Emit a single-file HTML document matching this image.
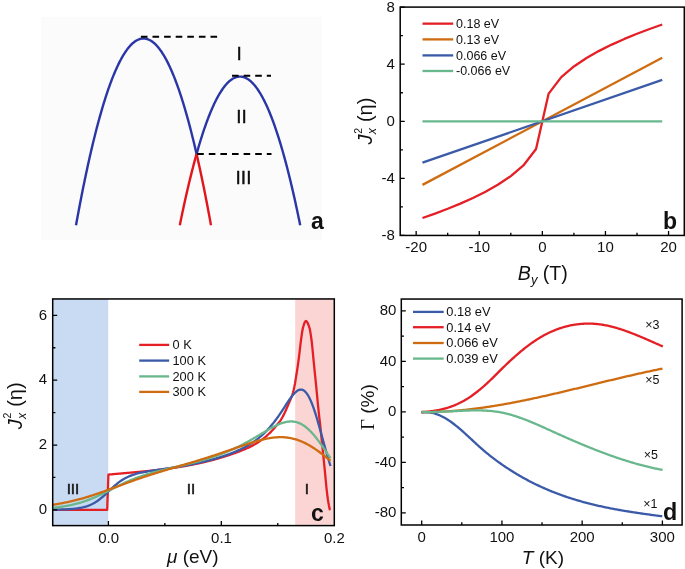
<!DOCTYPE html>
<html><head><meta charset="utf-8"><style>
html,body{margin:0;padding:0;background:#fff;width:685px;height:569px;overflow:hidden;}
svg{display:block;will-change:transform;}
text{font-family:"Liberation Sans",sans-serif;fill:#111;}
</style></head><body>
<svg width="685" height="569" viewBox="0 0 685 569">
<rect x="41" y="17" width="281" height="223" fill="#fbfbfb"/>
<path d="M76 225.31 L76.5 222.55 L77 219.81 L77.5 217.1 L78 214.4 L78.5 211.72 L79 209.07 L79.5 206.44 L80 203.82 L80.5 201.23 L81 198.66 L81.5 196.1 L82 193.57 L82.5 191.06 L83 188.57 L83.5 186.1 L84 183.65 L84.5 181.22 L85 178.81 L85.5 176.42 L86 174.06 L86.5 171.71 L87 169.38 L87.5 167.08 L88 164.79 L88.5 162.53 L89 160.28 L89.5 158.06 L90 155.85 L90.5 153.67 L91 151.51 L91.5 149.36 L92 147.24 L92.5 145.14 L93 143.06 L93.5 141 L94 138.96 L94.5 136.94 L95 134.94 L95.5 132.96 L96 131.01 L96.5 129.07 L97 127.15 L97.5 125.26 L98 123.38 L98.5 121.53 L99 119.69 L99.5 117.88 L100 116.08 L100.5 114.31 L101 112.56 L101.5 110.82 L102 109.11 L102.5 107.42 L103 105.75 L103.5 104.1 L104 102.47 L104.5 100.86 L105 99.27 L105.5 97.7 L106 96.16 L106.5 94.63 L107 93.12 L107.5 91.64 L108 90.17 L108.5 88.72 L109 87.3 L109.5 85.9 L110 84.51 L110.5 83.15 L111 81.81 L111.5 80.48 L112 79.18 L112.5 77.9 L113 76.64 L113.5 75.4 L114 74.18 L114.5 72.98 L115 71.8 L115.5 70.64 L116 69.51 L116.5 68.39 L117 67.29 L117.5 66.22 L118 65.16 L118.5 64.12 L119 63.11 L119.5 62.12 L120 61.14 L120.5 60.19 L121 59.26 L121.5 58.34 L122 57.45 L122.5 56.58 L123 55.73 L123.5 54.9 L124 54.09 L124.5 53.3 L125 52.53 L125.5 51.78 L126 51.06 L126.5 50.35 L127 49.66 L127.5 49 L128 48.35 L128.5 47.73 L129 47.12 L129.5 46.54 L130 45.97 L130.5 45.43 L131 44.91 L131.5 44.4 L132 43.92 L132.5 43.46 L133 43.02 L133.5 42.6 L134 42.2 L134.5 41.82 L135 41.46 L135.5 41.12 L136 40.81 L136.5 40.51 L137 40.23 L137.5 39.98 L138 39.74 L138.5 39.52 L139 39.33 L139.5 39.16 L140 39 L140.5 38.87 L141 38.76 L141.5 38.66 L142 38.59 L142.5 38.54 L143 38.51 L143.5 38.5 L144 38.51 L144.5 38.54 L145 38.59 L145.5 38.66 L146 38.76 L146.5 38.87 L147 39 L147.5 39.16 L148 39.33 L148.5 39.52 L149 39.74 L149.5 39.98 L150 40.23 L150.5 40.51 L151 40.81 L151.5 41.12 L152 41.46 L152.5 41.82 L153 42.2 L153.5 42.6 L154 43.02 L154.5 43.46 L155 43.92 L155.5 44.4 L156 44.91 L156.5 45.43 L157 45.97 L157.5 46.54 L158 47.12 L158.5 47.73 L159 48.35 L159.5 49 L160 49.66 L160.5 50.35 L161 51.06 L161.5 51.78 L162 52.53 L162.5 53.3 L163 54.09 L163.5 54.9 L164 55.73 L164.5 56.58 L165 57.45 L165.5 58.34 L166 59.26 L166.5 60.19 L167 61.14 L167.5 62.12 L168 63.11 L168.5 64.12 L169 65.16 L169.5 66.22 L170 67.29 L170.5 68.39 L171 69.51 L171.5 70.64 L172 71.8 L172.5 72.98 L173 74.18 L173.5 75.4 L174 76.64 L174.5 77.9 L175 79.18 L175.5 80.48 L176 81.81 L176.5 83.15 L177 84.51 L177.5 85.9 L178 87.3 L178.5 88.72 L179 90.17 L179.5 91.64 L180 93.12 L180.5 94.63 L181 96.16 L181.5 97.7 L182 99.27 L182.5 100.86 L183 102.47 L183.5 104.1 L184 105.75 L184.5 107.42 L185 109.11 L185.5 110.82 L186 112.56 L186.5 114.31 L187 116.08 L187.5 117.88 L188 119.69 L188.5 121.53 L189 123.38 L189.5 125.26 L190 127.15 L190.5 129.07 L191 131.01 L191.5 132.96 L192 134.94 L192.5 136.94 L193 138.96 L193.5 141 L194 143.06 L194.5 145.14 L195 147.24 L195.5 149.36 L196 151.51 L196.5 153.67 L196.6 154.1" fill="none" stroke="#2b36a6" stroke-width="2.4"/>
<path d="M196.6 153.83 L197.1 152.06 L197.6 150.31 L198.1 148.58 L198.6 146.87 L199.1 145.19 L199.6 143.52 L200.1 141.87 L200.6 140.25 L201.1 138.64 L201.6 137.06 L202.1 135.49 L202.6 133.95 L203.1 132.43 L203.6 130.92 L204.1 129.44 L204.6 127.98 L205.1 126.54 L205.6 125.12 L206.1 123.72 L206.6 122.34 L207.1 120.98 L207.6 119.64 L208.1 118.32 L208.6 117.02 L209.1 115.75 L209.6 114.49 L210.1 113.25 L210.6 112.04 L211.1 110.84 L211.6 109.67 L212.1 108.51 L212.6 107.38 L213.1 106.27 L213.6 105.18 L214.1 104.1 L214.6 103.05 L215.1 102.02 L215.6 101.01 L216.1 100.02 L216.6 99.05 L217.1 98.1 L217.6 97.17 L218.1 96.26 L218.6 95.38 L219.1 94.51 L219.6 93.66 L220.1 92.84 L220.6 92.03 L221.1 91.25 L221.6 90.48 L222.1 89.74 L222.6 89.01 L223.1 88.31 L223.6 87.63 L224.1 86.97 L224.6 86.32 L225.1 85.7 L225.6 85.1 L226.1 84.52 L226.6 83.96 L227.1 83.42 L227.6 82.9 L228.1 82.41 L228.6 81.93 L229.1 81.47 L229.6 81.03 L230.1 80.62 L230.6 80.22 L231.1 79.85 L231.6 79.49 L232.1 79.16 L232.6 78.85 L233.1 78.55 L233.6 78.28 L234.1 78.03 L234.6 77.8 L235.1 77.58 L235.6 77.39 L236.1 77.22 L236.6 77.07 L237.1 76.94 L237.6 76.84 L238.1 76.75 L238.6 76.68 L239.1 76.63 L239.6 76.61 L240.1 76.6 L240.6 76.61 L241.1 76.65 L241.6 76.7 L242.1 76.78 L242.6 76.88 L243.1 76.99 L243.6 77.13 L244.1 77.29 L244.6 77.47 L245.1 77.67 L245.6 77.89 L246.1 78.13 L246.6 78.39 L247.1 78.67 L247.6 78.97 L248.1 79.29 L248.6 79.63 L249.1 80 L249.6 80.38 L250.1 80.78 L250.6 81.21 L251.1 81.65 L251.6 82.12 L252.1 82.6 L252.6 83.11 L253.1 83.64 L253.6 84.18 L254.1 84.75 L254.6 85.34 L255.1 85.95 L255.6 86.58 L256.1 87.23 L256.6 87.9 L257.1 88.59 L257.6 89.3 L258.1 90.03 L258.6 90.78 L259.1 91.56 L259.6 92.35 L260.1 93.16 L260.6 94 L261.1 94.85 L261.6 95.73 L262.1 96.62 L262.6 97.54 L263.1 98.48 L263.6 99.44 L264.1 100.41 L264.6 101.41 L265.1 102.43 L265.6 103.47 L266.1 104.53 L266.6 105.61 L267.1 106.71 L267.6 107.83 L268.1 108.97 L268.6 110.14 L269.1 111.32 L269.6 112.52 L270.1 113.75 L270.6 114.99 L271.1 116.26 L271.6 117.54 L272.1 118.85 L272.6 120.17 L273.1 121.52 L273.6 122.89 L274.1 124.28 L274.6 125.68 L275.1 127.11 L275.6 128.56 L276.1 130.03 L276.6 131.52 L277.1 133.03 L277.6 134.56 L278.1 136.12 L278.6 137.69 L279.1 139.28 L279.6 140.89 L280.1 142.53 L280.6 144.18 L281.1 145.86 L281.6 147.55 L282.1 149.27 L282.6 151.01 L283.1 152.76 L283.6 154.54 L284.1 156.34 L284.6 158.16 L285.1 159.99 L285.6 161.85 L286.1 163.73 L286.6 165.63 L287.1 167.55 L287.6 169.5 L288.1 171.46 L288.6 173.44 L289.1 175.44 L289.6 177.47 L290.1 179.51 L290.6 181.57 L291.1 183.66 L291.6 185.76 L292.1 187.89 L292.6 190.04 L293.1 192.2 L293.6 194.39 L294.1 196.6 L294.6 198.83 L295.1 201.08 L295.6 203.35 L296.1 205.64 L296.6 207.95 L297.1 210.28 L297.6 212.63 L298.1 215 L298.6 217.39 L299.1 219.81 L299.6 222.24 L300.1 224.69 L300.2 225.19" fill="none" stroke="#2b36a6" stroke-width="2.4"/>
<path d="M196.6 154.1 L197.1 156.29 L197.6 158.5 L198.1 160.73 L198.6 162.98 L199.1 165.25 L199.6 167.54 L200.1 169.85 L200.6 172.18 L201.1 174.53 L201.6 176.9 L202.1 179.29 L202.6 181.71 L203.1 184.14 L203.6 186.59 L204.1 189.07 L204.6 191.56 L205.1 194.08 L205.6 196.61 L206.1 199.17 L206.6 201.75 L207.1 204.34 L207.6 206.96 L208.1 209.6 L208.6 212.26 L209.1 214.94 L209.6 217.64 L210.1 220.36 L210.6 223.1 L211 225.31" fill="none" stroke="#e2141c" stroke-width="2.4"/>
<path d="M179.8 225.19 L180.3 222.73 L180.8 220.29 L181.3 217.87 L181.8 215.48 L182.3 213.1 L182.8 210.75 L183.3 208.41 L183.8 206.1 L184.3 203.8 L184.8 201.53 L185.3 199.28 L185.8 197.04 L186.3 194.83 L186.8 192.64 L187.3 190.47 L187.8 188.32 L188.3 186.19 L188.8 184.08 L189.3 181.99 L189.8 179.92 L190.3 177.87 L190.8 175.85 L191.3 173.84 L191.8 171.85 L192.3 169.89 L192.8 167.94 L193.3 166.02 L193.8 164.11 L194.3 162.23 L194.8 160.36 L195.3 158.52 L195.8 156.7 L196.3 154.9 L196.6 153.83" fill="none" stroke="#e2141c" stroke-width="2.4"/>
<g stroke="#000" stroke-width="2" stroke-dasharray="6.6 5"><line x1="140.9" y1="36.8" x2="217.1" y2="36.8"/><line x1="232" y1="75.8" x2="271" y2="75.8"/><line x1="197.2" y1="153.9" x2="271.5" y2="153.9"/></g>
<g font-size="19" text-anchor="middle" stroke="#111" stroke-width="0.4"><text x="239.05" y="59.7">I</text></g>
<g font-size="19" text-anchor="middle" stroke="#111" stroke-width="0.4"><text x="239.0" y="122.9">I</text><text x="244.1" y="122.9">I</text></g>
<g font-size="19" text-anchor="middle" stroke="#111" stroke-width="0.4"><text x="238.05" y="183.7">I</text><text x="243.35" y="183.7">I</text><text x="248.85" y="183.7">I</text></g>
<text x="311" y="228.6" font-size="23" font-weight="bold">a</text>
<path d="M422.46 218.04 L435.08 213.57 L447.7 208.79 L460.32 203.63 L472.94 197.98 L485.56 191.71 L498.18 184.58 L510.8 176.14 L523.42 165.44 L536.04 148.96 L542.35 121.28 L548.66 93.6 L561.28 77.12 L573.9 66.42 L586.52 57.98 L599.14 50.85 L611.76 44.58 L624.38 38.93 L637 33.77 L649.62 28.99 L662.24 24.52" fill="none" stroke="#e41f26" stroke-width="2.3" stroke-linejoin="round"/>
<path d="M422.46 184.86L662.24 57.7" stroke="#cf6c12" stroke-width="2.3"/>
<path d="M422.46 162.63L662.24 79.93" stroke="#3b5ba8" stroke-width="2.3"/>
<path d="M422.46 121.28L662.24 121.28" stroke="#69b78c" stroke-width="2.3"/>
<rect x="400.2" y="7.1" width="284.1" height="228.35" fill="none" stroke="#000" stroke-width="1.5"/>
<path d="M416.15 235.45v-4.5M479.25 235.45v-4.5M542.35 235.45v-4.5M605.45 235.45v-4.5M668.55 235.45v-4.5M447.7 235.45v-2.7M510.8 235.45v-2.7M573.9 235.45v-2.7M637 235.45v-2.7M400.2 235.44h4.5M400.2 178.36h4.5M400.2 121.28h4.5M400.2 64.2h4.5M400.2 7.12h4.5M400.2 206.9h2.7M400.2 149.82h2.7M400.2 92.74h2.7M400.2 35.66h2.7" stroke="#000" stroke-width="1.3" fill="none"/>
<g font-size="15" text-anchor="middle">
<text x="416.15" y="252">-20</text>
<text x="479.25" y="252">-10</text>
<text x="542.35" y="252">0</text>
<text x="605.45" y="252">10</text>
<text x="668.55" y="252">20</text>
</g><g font-size="15" text-anchor="end">
<text x="394.8" y="239.84">-8</text>
<text x="394.8" y="182.76">-4</text>
<text x="394.8" y="125.68">0</text>
<text x="394.8" y="68.6">4</text>
<text x="394.8" y="11.52">8</text>
</g>
<line x1="422.5" y1="23.65" x2="453.2" y2="23.65" stroke="#e41f26" stroke-width="2.3"/>
<text x="456" y="27.95" font-size="12.5">0.18 eV</text>
<line x1="422.5" y1="39.4" x2="453.2" y2="39.4" stroke="#cf6c12" stroke-width="2.3"/>
<text x="456" y="43.7" font-size="12.5">0.13 eV</text>
<line x1="422.5" y1="55.4" x2="453.2" y2="55.4" stroke="#3b5ba8" stroke-width="2.3"/>
<text x="456" y="59.7" font-size="12.5">0.066 eV</text>
<line x1="422.5" y1="71.0" x2="453.2" y2="71.0" stroke="#69b78c" stroke-width="2.3"/>
<text x="456" y="75.3" font-size="12.5">-0.066 eV</text>
<text x="663" y="229.4" font-size="23" font-weight="bold">b</text>
<text x="517.8" y="279.9" font-size="19.6"><tspan font-style="italic">B</tspan><tspan font-size="13" font-style="italic" dy="4">y</tspan><tspan dy="-4"> (T)</tspan></text>
<g transform="translate(372.2,144.5) rotate(-90)"><text x="0" y="0" font-size="20" font-style="italic">J</text><text x="10.2" y="4" font-size="12.5" font-style="italic">x</text><text x="10.8" y="-10.6" font-size="10.5">2</text><text x="22.4" y="0" font-size="20">(η)</text></g>
<rect x="52.7" y="298.95" width="55.5" height="226.65" fill="#c9dbf3"/>
<rect x="295.2" y="298.95" width="39.1" height="226.65" fill="#fad5d4"/>
<path d="M52.7 509.8 L107.2 509.8 L108.4 474.59 L108.9 474.54 L109.4 474.5 L109.9 474.45 L110.4 474.41 L110.9 474.36 L111.4 474.32 L111.9 474.27 L112.4 474.23 L112.9 474.18 L113.4 474.14 L113.9 474.1 L114.4 474.05 L114.9 474.01 L115.4 473.96 L115.9 473.92 L116.4 473.88 L116.9 473.83 L117.4 473.79 L117.9 473.74 L118.4 473.7 L118.9 473.66 L119.4 473.61 L119.9 473.57 L120.4 473.52 L120.9 473.48 L121.4 473.44 L121.9 473.39 L122.4 473.35 L122.9 473.31 L123.4 473.26 L123.9 473.22 L124.4 473.17 L124.9 473.13 L125.4 473.09 L125.9 473.04 L126.4 473 L126.9 472.95 L127.4 472.91 L127.9 472.87 L128.4 472.82 L128.9 472.78 L129.4 472.73 L129.9 472.69 L130.4 472.64 L130.9 472.6 L131.4 472.55 L131.9 472.51 L132.4 472.46 L132.9 472.42 L133.4 472.37 L133.9 472.33 L134.4 472.28 L134.9 472.24 L135.4 472.19 L135.9 472.14 L136.4 472.1 L136.9 472.05 L137.4 472 L137.9 471.96 L138.4 471.91 L138.9 471.86 L139.4 471.82 L139.9 471.77 L140.4 471.72 L140.9 471.67 L141.4 471.63 L141.9 471.58 L142.4 471.53 L142.9 471.48 L143.4 471.43 L143.9 471.38 L144.4 471.33 L144.9 471.28 L145.4 471.23 L145.9 471.18 L146.4 471.13 L146.9 471.08 L147.4 471.03 L147.9 470.98 L148.4 470.93 L148.9 470.87 L149.4 470.82 L149.9 470.77 L150.4 470.72 L150.9 470.66 L151.4 470.61 L151.9 470.56 L152.4 470.5 L152.9 470.45 L153.4 470.39 L153.9 470.34 L154.4 470.28 L154.9 470.23 L155.4 470.17 L155.9 470.11 L156.4 470.06 L156.9 470 L157.4 469.94 L157.9 469.88 L158.4 469.83 L158.9 469.77 L159.4 469.71 L159.9 469.65 L160.4 469.59 L160.9 469.53 L161.4 469.47 L161.9 469.4 L162.4 469.34 L162.9 469.28 L163.4 469.22 L163.9 469.16 L164.4 469.09 L164.9 469.03 L165.4 468.96 L165.9 468.9 L166.4 468.83 L166.9 468.77 L167.4 468.7 L167.9 468.63 L168.4 468.57 L168.9 468.5 L169.4 468.43 L169.9 468.36 L170.4 468.29 L170.9 468.22 L171.4 468.15 L171.9 468.08 L172.4 468.01 L172.9 467.94 L173.4 467.86 L173.9 467.79 L174.4 467.72 L174.9 467.64 L175.4 467.57 L175.9 467.49 L176.4 467.42 L176.9 467.34 L177.4 467.26 L177.9 467.18 L178.4 467.11 L178.9 467.03 L179.4 466.95 L179.9 466.87 L180.4 466.79 L180.9 466.7 L181.4 466.62 L181.9 466.54 L182.4 466.46 L182.9 466.37 L183.4 466.29 L183.9 466.2 L184.4 466.11 L184.9 466.03 L185.4 465.94 L185.9 465.85 L186.4 465.76 L186.9 465.67 L187.4 465.58 L187.9 465.49 L188.4 465.4 L188.9 465.31 L189.4 465.22 L189.9 465.12 L190.4 465.03 L190.9 464.93 L191.4 464.84 L191.9 464.74 L192.4 464.64 L192.9 464.54 L193.4 464.45 L193.9 464.35 L194.4 464.24 L194.9 464.14 L195.4 464.04 L195.9 463.94 L196.4 463.83 L196.9 463.73 L197.4 463.63 L197.9 463.52 L198.4 463.41 L198.9 463.3 L199.4 463.2 L199.9 463.09 L200.4 462.98 L200.9 462.87 L201.4 462.75 L201.9 462.64 L202.4 462.53 L202.9 462.41 L203.4 462.3 L203.9 462.18 L204.4 462.06 L204.9 461.95 L205.4 461.83 L205.9 461.71 L206.4 461.59 L206.9 461.47 L207.4 461.34 L207.9 461.22 L208.4 461.1 L208.9 460.97 L209.4 460.84 L209.9 460.72 L210.4 460.59 L210.9 460.46 L211.4 460.33 L211.9 460.2 L212.4 460.07 L212.9 459.93 L213.4 459.8 L213.9 459.67 L214.4 459.53 L214.9 459.39 L215.4 459.26 L215.9 459.12 L216.4 458.98 L216.9 458.84 L217.4 458.7 L217.9 458.55 L218.4 458.41 L218.9 458.26 L219.4 458.12 L219.9 457.97 L220.4 457.82 L220.9 457.67 L221.4 457.52 L221.9 457.37 L222.4 457.22 L222.9 457.07 L223.4 456.91 L223.9 456.76 L224.4 456.6 L224.9 456.44 L225.4 456.29 L225.9 456.13 L226.4 455.96 L226.9 455.8 L227.4 455.64 L227.9 455.48 L228.4 455.31 L228.9 455.14 L229.4 454.98 L229.9 454.81 L230.4 454.64 L230.9 454.47 L231.4 454.29 L231.9 454.12 L232.4 453.95 L232.9 453.77 L233.4 453.59 L233.9 453.42 L234.4 453.24 L234.9 453.06 L235.4 452.87 L235.9 452.69 L236.4 452.51 L236.9 452.32 L237.4 452.13 L237.9 451.95 L238.4 451.76 L238.9 451.57 L239.4 451.38 L239.9 451.18 L240.4 450.99 L240.9 450.79 L241.4 450.6 L241.9 450.4 L242.4 450.2 L242.9 450 L243.4 449.79 L243.9 449.58 L244.4 449.38 L244.9 449.17 L245.4 448.95 L245.9 448.74 L246.4 448.52 L246.9 448.3 L247.4 448.07 L247.9 447.84 L248.4 447.61 L248.9 447.38 L249.4 447.14 L249.9 446.9 L250.4 446.65 L250.9 446.4 L251.4 446.15 L251.9 445.89 L252.4 445.63 L252.9 445.37 L253.4 445.1 L253.9 444.82 L254.4 444.54 L254.9 444.26 L255.4 443.97 L255.9 443.67 L256.4 443.37 L256.9 443.07 L257.4 442.76 L257.9 442.44 L258.4 442.12 L258.9 441.79 L259.4 441.46 L259.9 441.12 L260.4 440.77 L260.9 440.42 L261.4 440.06 L261.9 439.69 L262.4 439.32 L262.9 438.94 L263.4 438.55 L263.9 438.16 L264.4 437.75 L264.9 437.35 L265.4 436.93 L265.9 436.51 L266.4 436.07 L266.9 435.63 L267.4 435.19 L267.9 434.73 L268.4 434.27 L268.9 433.79 L269.4 433.31 L269.9 432.82 L270.4 432.32 L270.9 431.82 L271.4 431.3 L271.9 430.78 L272.4 430.24 L272.9 429.7 L273.4 429.14 L273.9 428.58 L274.4 428.01 L274.9 427.42 L275.4 426.83 L275.9 426.23 L276.4 425.61 L276.9 424.99 L277.4 424.35 L277.9 423.74 L278.4 423.15 L278.9 422.54 L279.4 421.91 L279.9 421.25 L280.4 420.55 L280.9 419.81 L281.4 419.01 L281.9 418.17 L282.4 417.29 L282.9 416.36 L283.4 415.4 L283.9 414.41 L284.4 413.39 L284.9 412.36 L285.4 411.29 L285.9 410.19 L286.4 409.06 L286.9 407.91 L287.4 406.73 L287.9 405.54 L288.4 404.34 L288.9 403.14 L289.4 401.97 L289.9 400.83 L290.4 399.7 L290.9 398.55 L291.4 397.33 L291.9 395.98 L292.4 394.5 L292.9 392.83 L293.4 390.95 L293.9 388.86 L294.4 386.58 L294.9 384.01 L295.4 381.05 L295.9 377.9 L296.4 374.74 L296.9 371.57 L297.4 368.31 L297.9 364.95 L298.4 361.45 L298.9 357.72 L299.4 353.61 L299.9 349.29 L300.4 344.96 L300.9 340.82 L301.4 337.08 L301.9 333.68 L302.4 330.48 L302.9 327.97 L303.4 326.24 L303.9 324.61 L304.4 323.18 L304.9 322.04 L305.4 321.28 L305.9 321 L306.4 321.18 L306.9 321.7 L307.4 322.5 L307.9 323.54 L308.4 324.77 L308.9 326.14 L309.4 327.6 L309.9 329.57 L310.4 332.34 L310.9 335.66 L311.4 339.27 L311.9 343.25 L312.4 348 L312.9 353.21 L313.4 358.55 L313.9 363.7 L314.4 368.62 L314.9 373.53 L315.4 378.45 L315.9 383.4 L316.4 388.41 L316.9 393.59 L317.4 398.86 L317.9 404.08 L318.4 409.09 L318.9 413.73 L319.4 418.02 L319.9 422.3 L320.4 426.88 L320.9 431.78 L321.4 436.81 L321.9 441.79 L322.4 446.72 L322.9 451.66 L323.4 456.6 L323.9 461.5 L324.4 466.4 L324.9 471.38 L325.4 476.66 L325.9 482.16 L326.4 487.28 L326.9 491.74 L327.4 495.87 L327.9 499.51 L328.4 502.61 L328.9 505.41 L329.4 507.89 L329.9 509.95 L330 510.3" fill="none" stroke="#e41f26" stroke-width="2.3" stroke-linejoin="round"/>
<path d="M52.7 509.68 L53.7 509.67 L54.7 509.66 L55.7 509.64 L56.7 509.62 L57.7 509.6 L58.7 509.58 L59.7 509.56 L60.7 509.53 L61.7 509.51 L62.7 509.47 L63.7 509.44 L64.7 509.4 L65.7 509.36 L66.7 509.31 L67.7 509.26 L68.7 509.2 L69.7 509.14 L70.7 509.07 L71.7 508.99 L72.7 508.9 L73.7 508.81 L74.7 508.7 L75.7 508.59 L76.7 508.46 L77.7 508.32 L78.7 508.17 L79.7 508 L80.7 507.82 L81.7 507.62 L82.7 507.4 L83.7 507.16 L84.7 506.89 L85.7 506.6 L86.7 506.29 L87.7 505.95 L88.7 505.58 L89.7 505.18 L90.7 504.75 L91.7 504.29 L92.7 503.79 L93.7 503.25 L94.7 502.68 L95.7 502.07 L96.7 501.43 L97.7 500.74 L98.7 500.02 L99.7 499.27 L100.7 498.48 L101.7 497.65 L102.7 496.8 L103.7 495.93 L104.7 495.03 L105.7 494.11 L106.7 493.17 L107.7 492.23 L108.7 491.28 L109.7 490.33 L110.7 489.38 L111.7 488.44 L112.7 487.52 L113.7 486.61 L114.7 485.72 L115.7 484.86 L116.7 484.02 L117.7 483.21 L118.7 482.44 L119.7 481.7 L120.7 480.99 L121.7 480.31 L122.7 479.67 L123.7 479.06 L124.7 478.49 L125.7 477.95 L126.7 477.43 L127.7 476.95 L128.7 476.5 L129.7 476.08 L130.7 475.68 L131.7 475.3 L132.7 474.95 L133.7 474.61 L134.7 474.3 L135.7 474 L136.7 473.73 L137.7 473.46 L138.7 473.21 L139.7 472.98 L140.7 472.75 L141.7 472.53 L142.7 472.33 L143.7 472.13 L144.7 471.94 L145.7 471.76 L146.7 471.58 L147.7 471.41 L148.7 471.24 L149.7 471.08 L150.7 470.92 L151.7 470.77 L152.7 470.61 L153.7 470.46 L154.7 470.32 L155.7 470.17 L156.7 470.02 L157.7 469.88 L158.7 469.73 L159.7 469.59 L160.7 469.45 L161.7 469.3 L162.7 469.16 L163.7 469.01 L164.7 468.87 L165.7 468.72 L166.7 468.58 L167.7 468.43 L168.7 468.28 L169.7 468.13 L170.7 467.98 L171.7 467.82 L172.7 467.67 L173.7 467.51 L174.7 467.35 L175.7 467.19 L176.7 467.03 L177.7 466.87 L178.7 466.7 L179.7 466.53 L180.7 466.36 L181.7 466.19 L182.7 466.01 L183.7 465.83 L184.7 465.65 L185.7 465.47 L186.7 465.28 L187.7 465.1 L188.7 464.9 L189.7 464.71 L190.7 464.51 L191.7 464.31 L192.7 464.11 L193.7 463.9 L194.7 463.7 L195.7 463.48 L196.7 463.27 L197.7 463.05 L198.7 462.83 L199.7 462.6 L200.7 462.37 L201.7 462.14 L202.7 461.9 L203.7 461.66 L204.7 461.42 L205.7 461.17 L206.7 460.92 L207.7 460.67 L208.7 460.41 L209.7 460.15 L210.7 459.88 L211.7 459.61 L212.7 459.33 L213.7 459.05 L214.7 458.77 L215.7 458.48 L216.7 458.18 L217.7 457.89 L218.7 457.58 L219.7 457.27 L220.7 456.96 L221.7 456.64 L222.7 456.31 L223.7 455.98 L224.7 455.65 L225.7 455.3 L226.7 454.95 L227.7 454.6 L228.7 454.23 L229.7 453.86 L230.7 453.49 L231.7 453.1 L232.7 452.71 L233.7 452.31 L234.7 451.89 L235.7 451.47 L236.7 451.05 L237.7 450.61 L238.7 450.16 L239.7 449.7 L240.7 449.22 L241.7 448.74 L242.7 448.24 L243.7 447.73 L244.7 447.21 L245.7 446.67 L246.7 446.12 L247.7 445.55 L248.7 444.97 L249.7 444.36 L250.7 443.74 L251.7 443.1 L252.7 442.45 L253.7 441.77 L254.7 441.07 L255.7 440.34 L256.7 439.6 L257.7 438.83 L258.7 438.04 L259.7 437.22 L260.7 436.37 L261.7 435.5 L262.7 434.6 L263.7 433.67 L264.7 432.71 L265.7 431.72 L266.7 430.69 L267.7 429.64 L268.7 428.55 L269.7 427.43 L270.7 426.27 L271.7 425.08 L272.7 423.85 L273.7 422.59 L274.7 421.3 L275.7 419.97 L276.7 418.61 L277.7 417.21 L278.7 415.79 L279.7 414.33 L280.7 412.86 L281.7 411.36 L282.7 409.84 L283.7 408.31 L284.7 406.78 L285.7 405.24 L286.7 403.71 L287.7 402.2 L288.7 400.72 L289.7 399.27 L290.7 397.87 L291.7 396.54 L292.7 395.27 L293.7 394.1 L294.7 393.02 L295.7 392.07 L296.7 391.25 L297.7 390.58 L298.7 390.07 L299.7 389.74 L300.7 389.6 L301.7 389.66 L302.7 389.94 L303.7 390.44 L304.7 391.18 L305.7 392.16 L306.7 393.37 L307.7 394.83 L308.7 396.53 L309.7 398.46 L310.7 400.62 L311.7 403.01 L312.7 405.6 L313.7 408.38 L314.7 411.34 L315.7 414.47 L316.7 417.73 L317.7 421.11 L318.7 424.6 L319.7 428.16 L320.7 431.78 L321.7 435.44 L322.7 439.1 L323.7 442.76 L324.7 446.39 L325.7 449.97 L326.7 453.49 L327.7 456.92 L328.7 460.27 L329.7 463.51 L330.5 466.01" fill="none" stroke="#3b5ba8" stroke-width="2.3"/>
<path d="M52.7 507.8 L53.7 507.7 L54.7 507.59 L55.7 507.48 L56.7 507.37 L57.7 507.25 L58.7 507.12 L59.7 506.99 L60.7 506.85 L61.7 506.71 L62.7 506.56 L63.7 506.41 L64.7 506.24 L65.7 506.07 L66.7 505.9 L67.7 505.71 L68.7 505.52 L69.7 505.32 L70.7 505.11 L71.7 504.9 L72.7 504.67 L73.7 504.44 L74.7 504.2 L75.7 503.95 L76.7 503.69 L77.7 503.42 L78.7 503.14 L79.7 502.85 L80.7 502.56 L81.7 502.25 L82.7 501.93 L83.7 501.6 L84.7 501.27 L85.7 500.92 L86.7 500.57 L87.7 500.2 L88.7 499.82 L89.7 499.44 L90.7 499.04 L91.7 498.64 L92.7 498.23 L93.7 497.8 L94.7 497.37 L95.7 496.94 L96.7 496.49 L97.7 496.04 L98.7 495.58 L99.7 495.11 L100.7 494.64 L101.7 494.16 L102.7 493.67 L103.7 493.18 L104.7 492.69 L105.7 492.19 L106.7 491.69 L107.7 491.19 L108.7 490.69 L109.7 490.18 L110.7 489.68 L111.7 489.17 L112.7 488.66 L113.7 488.16 L114.7 487.66 L115.7 487.15 L116.7 486.66 L117.7 486.16 L118.7 485.67 L119.7 485.18 L120.7 484.7 L121.7 484.22 L122.7 483.75 L123.7 483.28 L124.7 482.82 L125.7 482.36 L126.7 481.91 L127.7 481.47 L128.7 481.03 L129.7 480.61 L130.7 480.18 L131.7 479.77 L132.7 479.36 L133.7 478.96 L134.7 478.57 L135.7 478.18 L136.7 477.81 L137.7 477.43 L138.7 477.07 L139.7 476.71 L140.7 476.36 L141.7 476.02 L142.7 475.68 L143.7 475.35 L144.7 475.03 L145.7 474.71 L146.7 474.4 L147.7 474.1 L148.7 473.79 L149.7 473.5 L150.7 473.21 L151.7 472.92 L152.7 472.64 L153.7 472.37 L154.7 472.1 L155.7 471.83 L156.7 471.56 L157.7 471.3 L158.7 471.05 L159.7 470.79 L160.7 470.54 L161.7 470.29 L162.7 470.04 L163.7 469.8 L164.7 469.56 L165.7 469.32 L166.7 469.08 L167.7 468.84 L168.7 468.61 L169.7 468.37 L170.7 468.14 L171.7 467.9 L172.7 467.67 L173.7 467.44 L174.7 467.21 L175.7 466.97 L176.7 466.74 L177.7 466.51 L178.7 466.27 L179.7 466.04 L180.7 465.81 L181.7 465.57 L182.7 465.33 L183.7 465.09 L184.7 464.85 L185.7 464.61 L186.7 464.37 L187.7 464.13 L188.7 463.88 L189.7 463.63 L190.7 463.38 L191.7 463.13 L192.7 462.87 L193.7 462.61 L194.7 462.35 L195.7 462.09 L196.7 461.82 L197.7 461.55 L198.7 461.28 L199.7 461 L200.7 460.72 L201.7 460.44 L202.7 460.15 L203.7 459.86 L204.7 459.57 L205.7 459.27 L206.7 458.97 L207.7 458.66 L208.7 458.35 L209.7 458.03 L210.7 457.71 L211.7 457.39 L212.7 457.06 L213.7 456.72 L214.7 456.38 L215.7 456.04 L216.7 455.69 L217.7 455.34 L218.7 454.97 L219.7 454.61 L220.7 454.24 L221.7 453.86 L222.7 453.48 L223.7 453.09 L224.7 452.69 L225.7 452.29 L226.7 451.88 L227.7 451.47 L228.7 451.05 L229.7 450.62 L230.7 450.18 L231.7 449.74 L232.7 449.3 L233.7 448.84 L234.7 448.38 L235.7 447.91 L236.7 447.44 L237.7 446.95 L238.7 446.47 L239.7 445.97 L240.7 445.47 L241.7 444.96 L242.7 444.44 L243.7 443.92 L244.7 443.39 L245.7 442.85 L246.7 442.31 L247.7 441.76 L248.7 441.2 L249.7 440.64 L250.7 440.07 L251.7 439.5 L252.7 438.92 L253.7 438.34 L254.7 437.76 L255.7 437.17 L256.7 436.57 L257.7 435.98 L258.7 435.38 L259.7 434.78 L260.7 434.18 L261.7 433.58 L262.7 432.98 L263.7 432.38 L264.7 431.78 L265.7 431.19 L266.7 430.6 L267.7 430.02 L268.7 429.44 L269.7 428.87 L270.7 428.31 L271.7 427.76 L272.7 427.22 L273.7 426.7 L274.7 426.19 L275.7 425.69 L276.7 425.22 L277.7 424.76 L278.7 424.33 L279.7 423.92 L280.7 423.53 L281.7 423.17 L282.7 422.84 L283.7 422.54 L284.7 422.27 L285.7 422.04 L286.7 421.84 L287.7 421.68 L288.7 421.56 L289.7 421.49 L290.7 421.45 L291.7 421.46 L292.7 421.52 L293.7 421.63 L294.7 421.79 L295.7 421.99 L296.7 422.25 L297.7 422.56 L298.7 422.93 L299.7 423.35 L300.7 423.82 L301.7 424.35 L302.7 424.94 L303.7 425.58 L304.7 426.27 L305.7 427.02 L306.7 427.83 L307.7 428.68 L308.7 429.59 L309.7 430.55 L310.7 431.56 L311.7 432.62 L312.7 433.72 L313.7 434.87 L314.7 436.06 L315.7 437.29 L316.7 438.55 L317.7 439.85 L318.7 441.18 L319.7 442.54 L320.7 443.92 L321.7 445.33 L322.7 446.76 L323.7 448.2 L324.7 449.66 L325.7 451.13 L326.7 452.61 L327.7 454.1 L328.7 455.59 L329.7 457.07 L330.5 458.26" fill="none" stroke="#69b78c" stroke-width="2.3"/>
<path d="M52.7 504.8 L53.7 504.65 L54.7 504.49 L55.7 504.33 L56.7 504.17 L57.7 504 L58.7 503.83 L59.7 503.65 L60.7 503.47 L61.7 503.28 L62.7 503.09 L63.7 502.9 L64.7 502.7 L65.7 502.49 L66.7 502.29 L67.7 502.07 L68.7 501.86 L69.7 501.63 L70.7 501.41 L71.7 501.18 L72.7 500.94 L73.7 500.7 L74.7 500.45 L75.7 500.2 L76.7 499.95 L77.7 499.69 L78.7 499.42 L79.7 499.15 L80.7 498.88 L81.7 498.6 L82.7 498.32 L83.7 498.03 L84.7 497.74 L85.7 497.44 L86.7 497.14 L87.7 496.84 L88.7 496.53 L89.7 496.22 L90.7 495.9 L91.7 495.58 L92.7 495.26 L93.7 494.93 L94.7 494.6 L95.7 494.26 L96.7 493.93 L97.7 493.59 L98.7 493.24 L99.7 492.89 L100.7 492.55 L101.7 492.19 L102.7 491.84 L103.7 491.48 L104.7 491.12 L105.7 490.76 L106.7 490.4 L107.7 490.04 L108.7 489.67 L109.7 489.3 L110.7 488.93 L111.7 488.56 L112.7 488.19 L113.7 487.82 L114.7 487.45 L115.7 487.08 L116.7 486.71 L117.7 486.34 L118.7 485.97 L119.7 485.59 L120.7 485.22 L121.7 484.85 L122.7 484.48 L123.7 484.11 L124.7 483.75 L125.7 483.38 L126.7 483.01 L127.7 482.65 L128.7 482.28 L129.7 481.92 L130.7 481.56 L131.7 481.2 L132.7 480.84 L133.7 480.49 L134.7 480.13 L135.7 479.78 L136.7 479.43 L137.7 479.08 L138.7 478.74 L139.7 478.39 L140.7 478.05 L141.7 477.71 L142.7 477.37 L143.7 477.03 L144.7 476.7 L145.7 476.37 L146.7 476.04 L147.7 475.71 L148.7 475.38 L149.7 475.06 L150.7 474.73 L151.7 474.41 L152.7 474.09 L153.7 473.78 L154.7 473.46 L155.7 473.15 L156.7 472.84 L157.7 472.53 L158.7 472.22 L159.7 471.91 L160.7 471.61 L161.7 471.3 L162.7 471 L163.7 470.7 L164.7 470.4 L165.7 470.1 L166.7 469.8 L167.7 469.5 L168.7 469.2 L169.7 468.91 L170.7 468.61 L171.7 468.32 L172.7 468.02 L173.7 467.73 L174.7 467.44 L175.7 467.14 L176.7 466.85 L177.7 466.56 L178.7 466.27 L179.7 465.97 L180.7 465.68 L181.7 465.39 L182.7 465.1 L183.7 464.8 L184.7 464.51 L185.7 464.21 L186.7 463.92 L187.7 463.62 L188.7 463.33 L189.7 463.03 L190.7 462.73 L191.7 462.44 L192.7 462.14 L193.7 461.84 L194.7 461.54 L195.7 461.23 L196.7 460.93 L197.7 460.63 L198.7 460.32 L199.7 460.01 L200.7 459.7 L201.7 459.39 L202.7 459.08 L203.7 458.77 L204.7 458.46 L205.7 458.14 L206.7 457.82 L207.7 457.51 L208.7 457.18 L209.7 456.86 L210.7 456.54 L211.7 456.22 L212.7 455.89 L213.7 455.56 L214.7 455.23 L215.7 454.9 L216.7 454.57 L217.7 454.23 L218.7 453.9 L219.7 453.56 L220.7 453.22 L221.7 452.88 L222.7 452.54 L223.7 452.2 L224.7 451.86 L225.7 451.51 L226.7 451.17 L227.7 450.82 L228.7 450.48 L229.7 450.13 L230.7 449.78 L231.7 449.43 L232.7 449.08 L233.7 448.73 L234.7 448.38 L235.7 448.04 L236.7 447.69 L237.7 447.34 L238.7 446.99 L239.7 446.65 L240.7 446.3 L241.7 445.96 L242.7 445.61 L243.7 445.27 L244.7 444.94 L245.7 444.6 L246.7 444.27 L247.7 443.94 L248.7 443.61 L249.7 443.29 L250.7 442.97 L251.7 442.65 L252.7 442.34 L253.7 442.03 L254.7 441.73 L255.7 441.44 L256.7 441.15 L257.7 440.86 L258.7 440.59 L259.7 440.32 L260.7 440.06 L261.7 439.81 L262.7 439.56 L263.7 439.33 L264.7 439.1 L265.7 438.88 L266.7 438.68 L267.7 438.48 L268.7 438.3 L269.7 438.13 L270.7 437.97 L271.7 437.83 L272.7 437.69 L273.7 437.58 L274.7 437.47 L275.7 437.38 L276.7 437.31 L277.7 437.25 L278.7 437.21 L279.7 437.18 L280.7 437.17 L281.7 437.18 L282.7 437.21 L283.7 437.26 L284.7 437.32 L285.7 437.4 L286.7 437.51 L287.7 437.63 L288.7 437.77 L289.7 437.93 L290.7 438.12 L291.7 438.32 L292.7 438.55 L293.7 438.79 L294.7 439.06 L295.7 439.35 L296.7 439.66 L297.7 439.99 L298.7 440.34 L299.7 440.72 L300.7 441.11 L301.7 441.53 L302.7 441.96 L303.7 442.42 L304.7 442.9 L305.7 443.4 L306.7 443.91 L307.7 444.45 L308.7 445.01 L309.7 445.58 L310.7 446.18 L311.7 446.79 L312.7 447.42 L313.7 448.06 L314.7 448.72 L315.7 449.4 L316.7 450.09 L317.7 450.79 L318.7 451.51 L319.7 452.24 L320.7 452.99 L321.7 453.74 L322.7 454.51 L323.7 455.28 L324.7 456.07 L325.7 456.86 L326.7 457.66 L327.7 458.47 L328.7 459.28 L329.7 460.1 L330.5 460.76" fill="none" stroke="#cf6c12" stroke-width="2.3"/>
<rect x="52.7" y="298.95" width="281.6" height="226.65" fill="none" stroke="#000" stroke-width="1.5"/>
<path d="M108.4 525.6v-4.5M221.3 525.6v-4.5M164.85 525.6v-2.7M277.75 525.6v-2.7M52.7 509.9h4.5M52.7 445.04h4.5M52.7 380.18h4.5M52.7 315.32h4.5M52.7 477.47h2.7M52.7 412.61h2.7M52.7 347.75h2.7" stroke="#000" stroke-width="1.3" fill="none"/>
<g font-size="15" text-anchor="middle">
<text x="108.6" y="542.6">0.0</text>
<text x="221.5" y="542.6">0.1</text>
<text x="334.4" y="542.6">0.2</text>
</g><g font-size="15" text-anchor="end">
<text x="47.1" y="514.2">0</text>
<text x="47.1" y="449.34">2</text>
<text x="47.1" y="384.48">4</text>
<text x="47.1" y="319.62">6</text>
</g>
<line x1="139.2" y1="344.9" x2="169.2" y2="344.9" stroke="#e41f26" stroke-width="2.3"/>
<text x="172.5" y="349.2" font-size="12.8">0 K</text>
<line x1="139.2" y1="360.6" x2="169.2" y2="360.6" stroke="#3b5ba8" stroke-width="2.3"/>
<text x="172.5" y="364.9" font-size="12.8">100 K</text>
<line x1="139.2" y1="376.4" x2="169.2" y2="376.4" stroke="#69b78c" stroke-width="2.3"/>
<text x="172.5" y="380.7" font-size="12.8">200 K</text>
<line x1="139.2" y1="391.9" x2="169.2" y2="391.9" stroke="#cf6c12" stroke-width="2.3"/>
<text x="172.5" y="396.2" font-size="12.8">300 K</text>
<g font-size="15.2" text-anchor="middle" stroke="#111" stroke-width="0.5"><text x="68.9" y="493.8">I</text><text x="72.9" y="493.8">I</text><text x="77.0" y="493.8">I</text></g>
<g font-size="15.2" text-anchor="middle" stroke="#111" stroke-width="0.5"><text x="188.9" y="493.7">I</text><text x="193.0" y="493.7">I</text></g>
<g font-size="15.2" text-anchor="middle" stroke="#111" stroke-width="0.5"><text x="306.8" y="493.5">I</text></g>
<text x="311" y="520.8" font-size="23" font-weight="bold">c</text>
<text x="167" y="563.4" font-size="19"><tspan font-style="italic">μ</tspan> (eV)</text>
<g transform="translate(22.0,429.2) rotate(-90)"><text x="0" y="0" font-size="20" font-style="italic">J</text><text x="10.2" y="4" font-size="12.5" font-style="italic">x</text><text x="10.8" y="-10.6" font-size="10.5">2</text><text x="22.4" y="0" font-size="20">(η)</text></g>
<path d="M421.5 412.49 L422.5 412.37 L423.5 412.29 L424.5 412.23 L425.5 412.22 L426.5 412.23 L427.5 412.28 L428.5 412.36 L429.5 412.47 L430.5 412.61 L431.5 412.79 L432.5 412.99 L433.5 413.23 L434.5 413.5 L435.5 413.79 L436.5 414.12 L437.5 414.47 L438.5 414.85 L439.5 415.26 L440.5 415.7 L441.5 416.17 L442.5 416.66 L443.5 417.18 L444.5 417.73 L445.5 418.3 L446.5 418.9 L447.5 419.52 L448.5 420.17 L449.5 420.84 L450.5 421.53 L451.5 422.25 L452.5 422.98 L453.5 423.73 L454.5 424.5 L455.5 425.29 L456.5 426.09 L457.5 426.91 L458.5 427.75 L459.5 428.6 L460.5 429.46 L461.5 430.33 L462.5 431.21 L463.5 432.1 L464.5 433 L465.5 433.91 L466.5 434.83 L467.5 435.75 L468.5 436.67 L469.5 437.6 L470.5 438.53 L471.5 439.46 L472.5 440.39 L473.5 441.32 L474.5 442.25 L475.5 443.18 L476.5 444.1 L477.5 445.01 L478.5 445.92 L479.5 446.82 L480.5 447.71 L481.5 448.6 L482.5 449.47 L483.5 450.33 L484.5 451.18 L485.5 452.02 L486.5 452.85 L487.5 453.67 L488.5 454.48 L489.5 455.28 L490.5 456.07 L491.5 456.85 L492.5 457.62 L493.5 458.38 L494.5 459.14 L495.5 459.88 L496.5 460.62 L497.5 461.35 L498.5 462.07 L499.5 462.79 L500.5 463.49 L501.5 464.19 L502.5 464.89 L503.5 465.58 L504.5 466.26 L505.5 466.93 L506.5 467.6 L507.5 468.26 L508.5 468.91 L509.5 469.56 L510.5 470.2 L511.5 470.83 L512.5 471.46 L513.5 472.08 L514.5 472.69 L515.5 473.3 L516.5 473.9 L517.5 474.5 L518.5 475.09 L519.5 475.67 L520.5 476.25 L521.5 476.82 L522.5 477.38 L523.5 477.94 L524.5 478.49 L525.5 479.04 L526.5 479.58 L527.5 480.12 L528.5 480.65 L529.5 481.17 L530.5 481.69 L531.5 482.2 L532.5 482.71 L533.5 483.21 L534.5 483.7 L535.5 484.19 L536.5 484.68 L537.5 485.16 L538.5 485.63 L539.5 486.1 L540.5 486.56 L541.5 487.02 L542.5 487.47 L543.5 487.92 L544.5 488.36 L545.5 488.8 L546.5 489.23 L547.5 489.66 L548.5 490.08 L549.5 490.5 L550.5 490.91 L551.5 491.32 L552.5 491.72 L553.5 492.12 L554.5 492.51 L555.5 492.9 L556.5 493.28 L557.5 493.66 L558.5 494.04 L559.5 494.41 L560.5 494.78 L561.5 495.14 L562.5 495.49 L563.5 495.85 L564.5 496.2 L565.5 496.54 L566.5 496.88 L567.5 497.22 L568.5 497.55 L569.5 497.88 L570.5 498.2 L571.5 498.52 L572.5 498.84 L573.5 499.15 L574.5 499.45 L575.5 499.76 L576.5 500.06 L577.5 500.36 L578.5 500.65 L579.5 500.94 L580.5 501.22 L581.5 501.51 L582.5 501.79 L583.5 502.06 L584.5 502.33 L585.5 502.6 L586.5 502.87 L587.5 503.13 L588.5 503.39 L589.5 503.64 L590.5 503.89 L591.5 504.14 L592.5 504.39 L593.5 504.63 L594.5 504.87 L595.5 505.11 L596.5 505.34 L597.5 505.57 L598.5 505.8 L599.5 506.02 L600.5 506.24 L601.5 506.46 L602.5 506.68 L603.5 506.9 L604.5 507.11 L605.5 507.32 L606.5 507.52 L607.5 507.73 L608.5 507.93 L609.5 508.13 L610.5 508.32 L611.5 508.52 L612.5 508.71 L613.5 508.9 L614.5 509.09 L615.5 509.27 L616.5 509.46 L617.5 509.64 L618.5 509.82 L619.5 510 L620.5 510.17 L621.5 510.35 L622.5 510.52 L623.5 510.69 L624.5 510.86 L625.5 511.02 L626.5 511.19 L627.5 511.35 L628.5 511.51 L629.5 511.67 L630.5 511.83 L631.5 511.99 L632.5 512.14 L633.5 512.3 L634.5 512.45 L635.5 512.6 L636.5 512.75 L637.5 512.9 L638.5 513.05 L639.5 513.2 L640.5 513.34 L641.5 513.49 L642.5 513.63 L643.5 513.77 L644.5 513.92 L645.5 514.06 L646.5 514.2 L647.5 514.34 L648.5 514.48 L649.5 514.61 L650.5 514.75 L651.5 514.89 L652.5 515.02 L653.5 515.16 L654.5 515.29 L655.5 515.43 L656.5 515.56 L657.5 515.7 L658.5 515.83 L659.5 515.96 L660.5 516.09 L661.5 516.23 L662.3 516.33" fill="none" stroke="#3b5ba8" stroke-width="2.3"/>
<path d="M421.5 412.07 L422.5 412.01 L423.5 411.95 L424.5 411.88 L425.5 411.8 L426.5 411.72 L427.5 411.62 L428.5 411.52 L429.5 411.42 L430.5 411.3 L431.5 411.18 L432.5 411.04 L433.5 410.9 L434.5 410.75 L435.5 410.59 L436.5 410.41 L437.5 410.23 L438.5 410.04 L439.5 409.84 L440.5 409.62 L441.5 409.4 L442.5 409.16 L443.5 408.91 L444.5 408.65 L445.5 408.38 L446.5 408.09 L447.5 407.79 L448.5 407.48 L449.5 407.15 L450.5 406.81 L451.5 406.46 L452.5 406.09 L453.5 405.71 L454.5 405.31 L455.5 404.89 L456.5 404.46 L457.5 404.02 L458.5 403.56 L459.5 403.08 L460.5 402.59 L461.5 402.08 L462.5 401.55 L463.5 401 L464.5 400.44 L465.5 399.86 L466.5 399.26 L467.5 398.64 L468.5 398 L469.5 397.34 L470.5 396.67 L471.5 395.97 L472.5 395.26 L473.5 394.53 L474.5 393.78 L475.5 393.03 L476.5 392.25 L477.5 391.47 L478.5 390.68 L479.5 389.87 L480.5 389.05 L481.5 388.21 L482.5 387.37 L483.5 386.5 L484.5 385.62 L485.5 384.73 L486.5 383.82 L487.5 382.89 L488.5 381.95 L489.5 381 L490.5 380.04 L491.5 379.06 L492.5 378.08 L493.5 377.1 L494.5 376.11 L495.5 375.11 L496.5 374.12 L497.5 373.12 L498.5 372.12 L499.5 371.13 L500.5 370.13 L501.5 369.14 L502.5 368.16 L503.5 367.19 L504.5 366.22 L505.5 365.25 L506.5 364.29 L507.5 363.34 L508.5 362.4 L509.5 361.46 L510.5 360.53 L511.5 359.61 L512.5 358.7 L513.5 357.79 L514.5 356.9 L515.5 356.01 L516.5 355.13 L517.5 354.26 L518.5 353.4 L519.5 352.55 L520.5 351.71 L521.5 350.88 L522.5 350.06 L523.5 349.25 L524.5 348.45 L525.5 347.66 L526.5 346.88 L527.5 346.12 L528.5 345.37 L529.5 344.62 L530.5 343.89 L531.5 343.18 L532.5 342.47 L533.5 341.78 L534.5 341.11 L535.5 340.44 L536.5 339.79 L537.5 339.15 L538.5 338.53 L539.5 337.92 L540.5 337.32 L541.5 336.74 L542.5 336.17 L543.5 335.61 L544.5 335.07 L545.5 334.54 L546.5 334.02 L547.5 333.51 L548.5 333.02 L549.5 332.54 L550.5 332.08 L551.5 331.62 L552.5 331.19 L553.5 330.76 L554.5 330.34 L555.5 329.94 L556.5 329.55 L557.5 329.18 L558.5 328.82 L559.5 328.46 L560.5 328.13 L561.5 327.8 L562.5 327.49 L563.5 327.19 L564.5 326.9 L565.5 326.62 L566.5 326.36 L567.5 326.11 L568.5 325.87 L569.5 325.64 L570.5 325.43 L571.5 325.23 L572.5 325.04 L573.5 324.86 L574.5 324.69 L575.5 324.54 L576.5 324.4 L577.5 324.27 L578.5 324.15 L579.5 324.04 L580.5 323.95 L581.5 323.86 L582.5 323.79 L583.5 323.73 L584.5 323.69 L585.5 323.65 L586.5 323.62 L587.5 323.61 L588.5 323.61 L589.5 323.62 L590.5 323.64 L591.5 323.67 L592.5 323.71 L593.5 323.77 L594.5 323.84 L595.5 323.91 L596.5 324 L597.5 324.1 L598.5 324.21 L599.5 324.33 L600.5 324.47 L601.5 324.61 L602.5 324.76 L603.5 324.93 L604.5 325.1 L605.5 325.29 L606.5 325.49 L607.5 325.69 L608.5 325.91 L609.5 326.13 L610.5 326.37 L611.5 326.61 L612.5 326.86 L613.5 327.13 L614.5 327.39 L615.5 327.67 L616.5 327.96 L617.5 328.25 L618.5 328.55 L619.5 328.86 L620.5 329.18 L621.5 329.5 L622.5 329.83 L623.5 330.17 L624.5 330.51 L625.5 330.86 L626.5 331.22 L627.5 331.58 L628.5 331.95 L629.5 332.32 L630.5 332.7 L631.5 333.08 L632.5 333.47 L633.5 333.86 L634.5 334.26 L635.5 334.66 L636.5 335.06 L637.5 335.47 L638.5 335.88 L639.5 336.3 L640.5 336.72 L641.5 337.14 L642.5 337.56 L643.5 337.99 L644.5 338.42 L645.5 338.85 L646.5 339.29 L647.5 339.72 L648.5 340.16 L649.5 340.6 L650.5 341.04 L651.5 341.48 L652.5 341.92 L653.5 342.36 L654.5 342.8 L655.5 343.25 L656.5 343.69 L657.5 344.13 L658.5 344.57 L659.5 345.02 L660.5 345.46 L661.5 345.9 L662.5 346.33 L662.8 346.46" fill="none" stroke="#e41f26" stroke-width="2.3"/>
<path d="M421.5 412.1 L422.5 412.11 L423.5 412.11 L424.5 412.11 L425.5 412.11 L426.5 412.1 L427.5 412.09 L428.5 412.08 L429.5 412.06 L430.5 412.05 L431.5 412.03 L432.5 412 L433.5 411.98 L434.5 411.95 L435.5 411.92 L436.5 411.88 L437.5 411.85 L438.5 411.81 L439.5 411.76 L440.5 411.72 L441.5 411.67 L442.5 411.62 L443.5 411.57 L444.5 411.51 L445.5 411.46 L446.5 411.4 L447.5 411.33 L448.5 411.27 L449.5 411.2 L450.5 411.13 L451.5 411.06 L452.5 410.98 L453.5 410.9 L454.5 410.82 L455.5 410.74 L456.5 410.66 L457.5 410.57 L458.5 410.48 L459.5 410.39 L460.5 410.3 L461.5 410.2 L462.5 410.1 L463.5 410 L464.5 409.9 L465.5 409.79 L466.5 409.69 L467.5 409.58 L468.5 409.46 L469.5 409.35 L470.5 409.23 L471.5 409.12 L472.5 409 L473.5 408.87 L474.5 408.75 L475.5 408.62 L476.5 408.5 L477.5 408.37 L478.5 408.23 L479.5 408.1 L480.5 407.96 L481.5 407.83 L482.5 407.69 L483.5 407.55 L484.5 407.4 L485.5 407.26 L486.5 407.11 L487.5 406.96 L488.5 406.81 L489.5 406.66 L490.5 406.5 L491.5 406.35 L492.5 406.19 L493.5 406.03 L494.5 405.87 L495.5 405.7 L496.5 405.54 L497.5 405.37 L498.5 405.2 L499.5 405.04 L500.5 404.86 L501.5 404.69 L502.5 404.52 L503.5 404.34 L504.5 404.16 L505.5 403.99 L506.5 403.8 L507.5 403.62 L508.5 403.44 L509.5 403.26 L510.5 403.07 L511.5 402.88 L512.5 402.69 L513.5 402.5 L514.5 402.31 L515.5 402.12 L516.5 401.92 L517.5 401.73 L518.5 401.53 L519.5 401.33 L520.5 401.13 L521.5 400.93 L522.5 400.73 L523.5 400.53 L524.5 400.32 L525.5 400.12 L526.5 399.91 L527.5 399.7 L528.5 399.5 L529.5 399.29 L530.5 399.07 L531.5 398.86 L532.5 398.65 L533.5 398.44 L534.5 398.22 L535.5 398 L536.5 397.79 L537.5 397.57 L538.5 397.35 L539.5 397.13 L540.5 396.91 L541.5 396.69 L542.5 396.47 L543.5 396.24 L544.5 396.02 L545.5 395.79 L546.5 395.57 L547.5 395.34 L548.5 395.11 L549.5 394.89 L550.5 394.66 L551.5 394.43 L552.5 394.2 L553.5 393.97 L554.5 393.74 L555.5 393.5 L556.5 393.27 L557.5 393.04 L558.5 392.8 L559.5 392.57 L560.5 392.33 L561.5 392.1 L562.5 391.86 L563.5 391.63 L564.5 391.39 L565.5 391.15 L566.5 390.91 L567.5 390.67 L568.5 390.43 L569.5 390.2 L570.5 389.96 L571.5 389.72 L572.5 389.48 L573.5 389.23 L574.5 388.99 L575.5 388.75 L576.5 388.51 L577.5 388.27 L578.5 388.03 L579.5 387.78 L580.5 387.54 L581.5 387.3 L582.5 387.06 L583.5 386.81 L584.5 386.57 L585.5 386.33 L586.5 386.08 L587.5 385.84 L588.5 385.6 L589.5 385.35 L590.5 385.11 L591.5 384.86 L592.5 384.62 L593.5 384.38 L594.5 384.13 L595.5 383.89 L596.5 383.65 L597.5 383.4 L598.5 383.16 L599.5 382.92 L600.5 382.67 L601.5 382.43 L602.5 382.19 L603.5 381.94 L604.5 381.7 L605.5 381.46 L606.5 381.22 L607.5 380.98 L608.5 380.74 L609.5 380.49 L610.5 380.25 L611.5 380.01 L612.5 379.77 L613.5 379.53 L614.5 379.29 L615.5 379.05 L616.5 378.82 L617.5 378.58 L618.5 378.34 L619.5 378.1 L620.5 377.87 L621.5 377.63 L622.5 377.39 L623.5 377.16 L624.5 376.92 L625.5 376.69 L626.5 376.46 L627.5 376.22 L628.5 375.99 L629.5 375.76 L630.5 375.53 L631.5 375.3 L632.5 375.07 L633.5 374.84 L634.5 374.61 L635.5 374.39 L636.5 374.16 L637.5 373.93 L638.5 373.71 L639.5 373.48 L640.5 373.26 L641.5 373.04 L642.5 372.82 L643.5 372.6 L644.5 372.38 L645.5 372.16 L646.5 371.94 L647.5 371.72 L648.5 371.51 L649.5 371.29 L650.5 371.08 L651.5 370.86 L652.5 370.65 L653.5 370.44 L654.5 370.23 L655.5 370.02 L656.5 369.81 L657.5 369.61 L658.5 369.4 L659.5 369.2 L660.5 368.99 L661.5 368.79 L662.5 368.59" fill="none" stroke="#cf6c12" stroke-width="2.3"/>
<path d="M421.5 411.94 L422.5 411.97 L423.5 412 L424.5 412.02 L425.5 412.04 L426.5 412.05 L427.5 412.06 L428.5 412.06 L429.5 412.06 L430.5 412.05 L431.5 412.04 L432.5 412.03 L433.5 412.01 L434.5 411.99 L435.5 411.97 L436.5 411.94 L437.5 411.91 L438.5 411.88 L439.5 411.84 L440.5 411.81 L441.5 411.77 L442.5 411.72 L443.5 411.68 L444.5 411.64 L445.5 411.59 L446.5 411.54 L447.5 411.49 L448.5 411.44 L449.5 411.39 L450.5 411.34 L451.5 411.29 L452.5 411.24 L453.5 411.18 L454.5 411.13 L455.5 411.08 L456.5 411.03 L457.5 410.98 L458.5 410.93 L459.5 410.88 L460.5 410.83 L461.5 410.79 L462.5 410.74 L463.5 410.7 L464.5 410.66 L465.5 410.62 L466.5 410.58 L467.5 410.55 L468.5 410.52 L469.5 410.49 L470.5 410.46 L471.5 410.44 L472.5 410.42 L473.5 410.41 L474.5 410.4 L475.5 410.39 L476.5 410.39 L477.5 410.39 L478.5 410.4 L479.5 410.41 L480.5 410.43 L481.5 410.45 L482.5 410.48 L483.5 410.52 L484.5 410.56 L485.5 410.61 L486.5 410.66 L487.5 410.73 L488.5 410.8 L489.5 410.88 L490.5 410.96 L491.5 411.06 L492.5 411.16 L493.5 411.27 L494.5 411.4 L495.5 411.53 L496.5 411.67 L497.5 411.82 L498.5 411.98 L499.5 412.15 L500.5 412.33 L501.5 412.52 L502.5 412.72 L503.5 412.93 L504.5 413.16 L505.5 413.39 L506.5 413.63 L507.5 413.88 L508.5 414.14 L509.5 414.41 L510.5 414.69 L511.5 414.97 L512.5 415.27 L513.5 415.57 L514.5 415.88 L515.5 416.2 L516.5 416.52 L517.5 416.86 L518.5 417.2 L519.5 417.54 L520.5 417.9 L521.5 418.25 L522.5 418.62 L523.5 418.99 L524.5 419.37 L525.5 419.75 L526.5 420.14 L527.5 420.53 L528.5 420.93 L529.5 421.34 L530.5 421.74 L531.5 422.16 L532.5 422.57 L533.5 422.99 L534.5 423.42 L535.5 423.84 L536.5 424.27 L537.5 424.71 L538.5 425.14 L539.5 425.58 L540.5 426.03 L541.5 426.47 L542.5 426.91 L543.5 427.36 L544.5 427.81 L545.5 428.26 L546.5 428.71 L547.5 429.17 L548.5 429.62 L549.5 430.07 L550.5 430.53 L551.5 430.98 L552.5 431.44 L553.5 431.89 L554.5 432.35 L555.5 432.8 L556.5 433.25 L557.5 433.7 L558.5 434.15 L559.5 434.6 L560.5 435.05 L561.5 435.5 L562.5 435.94 L563.5 436.39 L564.5 436.83 L565.5 437.27 L566.5 437.71 L567.5 438.15 L568.5 438.59 L569.5 439.03 L570.5 439.47 L571.5 439.9 L572.5 440.33 L573.5 440.77 L574.5 441.2 L575.5 441.63 L576.5 442.05 L577.5 442.48 L578.5 442.9 L579.5 443.32 L580.5 443.75 L581.5 444.16 L582.5 444.58 L583.5 445 L584.5 445.41 L585.5 445.82 L586.5 446.23 L587.5 446.64 L588.5 447.05 L589.5 447.45 L590.5 447.86 L591.5 448.26 L592.5 448.66 L593.5 449.05 L594.5 449.45 L595.5 449.84 L596.5 450.23 L597.5 450.62 L598.5 451.01 L599.5 451.39 L600.5 451.77 L601.5 452.15 L602.5 452.53 L603.5 452.91 L604.5 453.28 L605.5 453.65 L606.5 454.02 L607.5 454.38 L608.5 454.75 L609.5 455.11 L610.5 455.47 L611.5 455.82 L612.5 456.17 L613.5 456.52 L614.5 456.87 L615.5 457.22 L616.5 457.56 L617.5 457.9 L618.5 458.24 L619.5 458.57 L620.5 458.9 L621.5 459.23 L622.5 459.56 L623.5 459.88 L624.5 460.2 L625.5 460.52 L626.5 460.83 L627.5 461.14 L628.5 461.45 L629.5 461.76 L630.5 462.06 L631.5 462.36 L632.5 462.65 L633.5 462.94 L634.5 463.23 L635.5 463.52 L636.5 463.8 L637.5 464.08 L638.5 464.36 L639.5 464.63 L640.5 464.9 L641.5 465.17 L642.5 465.43 L643.5 465.69 L644.5 465.94 L645.5 466.19 L646.5 466.44 L647.5 466.69 L648.5 466.93 L649.5 467.17 L650.5 467.4 L651.5 467.63 L652.5 467.86 L653.5 468.08 L654.5 468.3 L655.5 468.51 L656.5 468.73 L657.5 468.93 L658.5 469.14 L659.5 469.34 L660.5 469.53 L661.5 469.72 L662.5 469.91 L662.6 469.93" fill="none" stroke="#69b78c" stroke-width="2.3"/>
<rect x="401.3" y="299.05" width="280.8" height="225.95" fill="none" stroke="#000" stroke-width="1.5"/>
<path d="M421.7 525v-4.5M501.93 525v-4.5M582.16 525v-4.5M662.39 525v-4.5M461.81 525v-2.7M542.04 525v-2.7M622.27 525v-2.7M401.3 512.83h4.5M401.3 462.36h4.5M401.3 411.9h4.5M401.3 361.44h4.5M401.3 310.97h4.5M401.3 487.6h2.7M401.3 437.13h2.7M401.3 386.67h2.7M401.3 336.2h2.7" stroke="#000" stroke-width="1.3" fill="none"/>
<g font-size="15" text-anchor="middle">
<text x="421.7" y="541.6">0</text>
<text x="501.93" y="541.6">100</text>
<text x="582.16" y="541.6">200</text>
<text x="662.39" y="541.6">300</text>
</g><g font-size="15" text-anchor="end">
<text x="396.4" y="517.23">-80</text>
<text x="396.4" y="466.76">-40</text>
<text x="396.4" y="416.3">0</text>
<text x="396.4" y="365.84">40</text>
<text x="396.4" y="315.37">80</text>
</g>
<line x1="413" y1="311.9" x2="443.7" y2="311.9" stroke="#3b5ba8" stroke-width="2.3"/>
<text x="446.3" y="316.2" font-size="12.85">0.18 eV</text>
<line x1="413" y1="327.2" x2="443.7" y2="327.2" stroke="#e41f26" stroke-width="2.3"/>
<text x="446.3" y="331.5" font-size="12.85">0.14 eV</text>
<line x1="413" y1="343.0" x2="443.7" y2="343.0" stroke="#cf6c12" stroke-width="2.3"/>
<text x="446.3" y="347.3" font-size="12.85">0.066 eV</text>
<line x1="413" y1="358.6" x2="443.7" y2="358.6" stroke="#69b78c" stroke-width="2.3"/>
<text x="446.3" y="362.9" font-size="12.85">0.039 eV</text>
<g font-size="12.5"><text x="645.3" y="329.4">×3</text><text x="645.2" y="383.6">×5</text><text x="643.8" y="458.6">×5</text><text x="643.3" y="507.8">×1</text></g>
<text x="663" y="520.2" font-size="23.3" font-weight="bold">d</text>
<text x="521.8" y="563.8" font-size="19"><tspan font-style="italic">T</tspan> (K)</text>
<text transform="translate(374.3,430) rotate(-90)" font-size="19"><tspan font-family="Liberation Serif">Γ</tspan> (%)</text>
</svg>
</body></html>
